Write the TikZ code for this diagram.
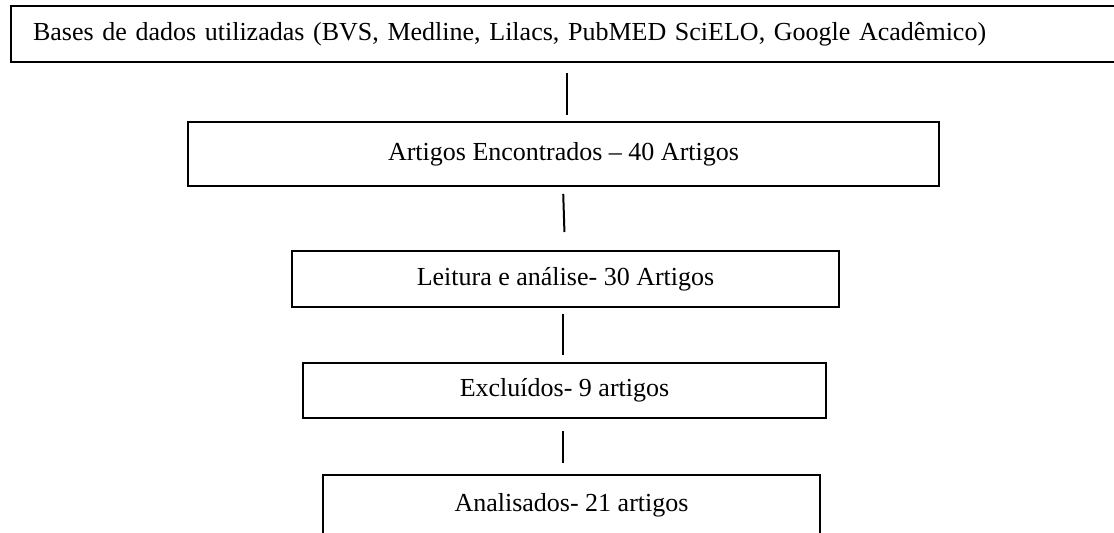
\documentclass[tikz,border=0pt]{standalone}
\usepackage{fontspec}
\setmainfont{Liberation Serif}
\usepackage{tikz}

\begin{document}
\begin{tikzpicture}[x=0.5pt,y=-0.5pt,
  box/.style={draw,line width=1pt,inner sep=0pt,font=\fontsize{13pt}{15.6pt}\selectfont},
  link/.style={line width=1pt}]
\useasboundingbox (0,0) rectangle (1114,533);
\clip (0,0) rectangle (1114,533);
% Steps
\node[box,anchor=west,inner xsep=11pt,text width=538pt,align=left,minimum height=28pt] (bases) at (10,34) {Bases de dados utilizadas (BVS, Medline, Lilacs, PubMED SciELO, Google Acadêmico)};
\node[box,minimum width=375.5pt,minimum height=32pt] (found) at (563.5,154) {Artigos Encontrados – 40 Artigos};
\node[box,minimum width=273.5pt,minimum height=28pt] (read) at (565.5,279) {Leitura e análise- 30 Artigos};
\node[box,minimum width=261.5pt,minimum height=27.5pt] (excl) at (564.5,390.5) {Excluídos- 9 artigos};
\node[box,minimum width=248.5pt,minimum height=30pt] (done) at (571.5,505) {Analisados- 21 artigos};
% Links
\draw[link,shorten <=5pt,shorten >=3pt] ([xshift=1.75pt]found.north |- bases.south) -- ([xshift=1.75pt]found.north);
\draw[link,shorten <=3.5pt,shorten >=9pt] ([xshift=-0.25pt]found.south) -- ([xshift=-0.25pt]read.north);
\draw[link,shorten <=3pt,shorten >=3.5pt] ([xshift=-1.25pt]read.south) -- ([xshift=-0.75pt]excl.north);
\draw[link,shorten <=6pt,shorten >=5.5pt] ([xshift=-0.75pt]excl.south) -- ([xshift=-4.25pt]done.north);
\end{tikzpicture}
\end{document}
